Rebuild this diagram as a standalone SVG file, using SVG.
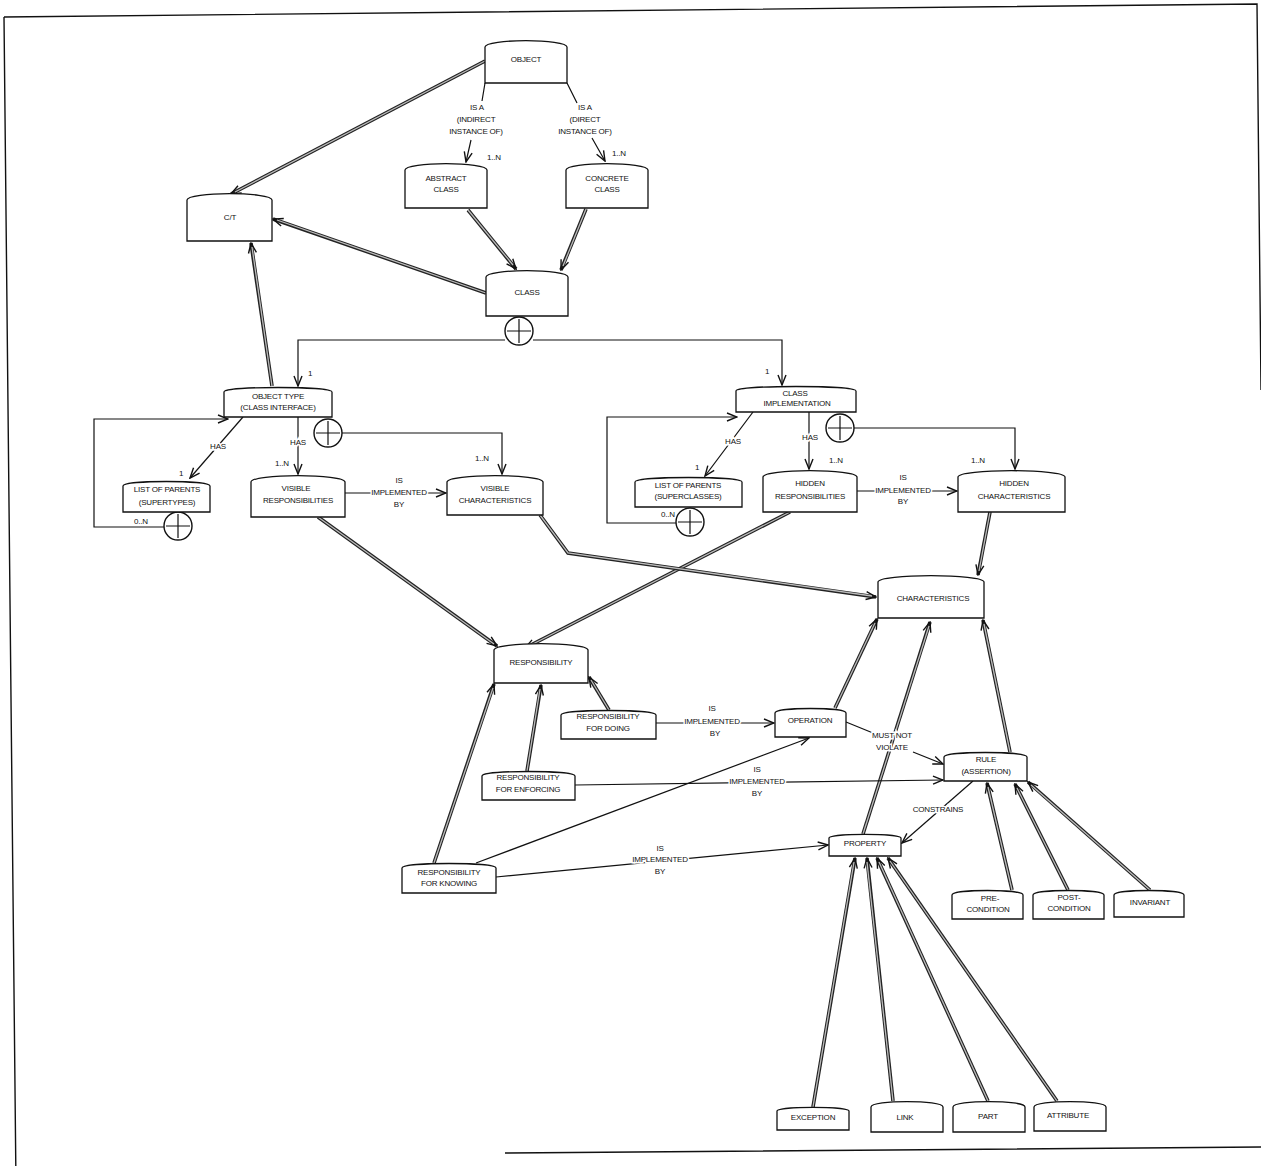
<svg xmlns="http://www.w3.org/2000/svg" width="1261" height="1166" viewBox="0 0 1261 1166">
<style>
.node{fill:#fff;stroke:#111;stroke-width:1.3}
.t{font-family:"Liberation Sans",Arial,sans-serif;font-size:8px;text-anchor:middle;fill:#111;letter-spacing:-0.2px}
.l{font-family:"Liberation Sans",Arial,sans-serif;font-size:8px;text-anchor:middle;fill:#111;letter-spacing:-0.2px;stroke:#fff;stroke-width:3;paint-order:stroke}
.s{fill:none;stroke:#111;stroke-width:1.2}
.sa{fill:none;stroke:#111;stroke-width:1.2;marker-end:url(#a)}
.d{fill:none;stroke:#222;stroke-width:3.6;marker-end:url(#a)}
.di{fill:none;stroke:#bbb;stroke-width:1.3}
.frame{fill:none;stroke:#111;stroke-width:1.4}
.circ{fill:#fff;stroke:#111;stroke-width:1.4}
</style>
<defs>
<marker id="a" markerUnits="userSpaceOnUse" viewBox="0 0 12 10" markerWidth="12" markerHeight="10" refX="11" refY="5" orient="auto"><path d="M1,1 L11,5 L1,9" fill="none" stroke="#111" stroke-width="1.4"/></marker>
</defs>
<rect width="1261" height="1166" fill="#fff"/>
<g id="frame">
<path class="frame" d="M4,17 L15.8,1166 M4,17 L1257,4 L1261,390 M505,1153 L1261,1147"/>
</g>
<g id="connectors">
<!-- double connectors -->
<path class="d" d="M485,61 L231,194"/><path class="di" d="M485,61 L235,192"/>
<path class="d" d="M486,293 L273,219"/><path class="di" d="M486,293 L277,220"/>
<path class="d" d="M468,210 L516,269"/><path class="di" d="M468,210 L513,265"/>
<path class="d" d="M586,209 L561,270"/><path class="di" d="M586,209 L563,266"/>
<path class="d" d="M272,386 L251,243"/><path class="di" d="M272,386 L252,247"/>
<path class="d" d="M318,517 L497,646"/><path class="di" d="M318,517 L494,644"/>
<path class="d" d="M790,512 L525,648"/><path class="di" d="M790,512 L529,646"/>
<path class="d" d="M540,515 L568,553 L876,597"/><path class="di" d="M540,515 L568,553 L872,596"/>
<path class="d" d="M990,512 L978,575"/><path class="di" d="M990,512 L979,571"/>
<path class="d" d="M609,710 L589,677"/><path class="di" d="M609,710 L591,680"/>
<path class="d" d="M527,771 L541,685"/><path class="di" d="M527,771 L540,689"/>
<path class="d" d="M434,863 L494,684"/><path class="di" d="M434,863 L493,688"/>
<path class="d" d="M835,708 L877,619"/><path class="di" d="M835,708 L875,623"/>
<path class="d" d="M863,834 L930,622"/><path class="di" d="M863,834 L929,626"/>
<path class="d" d="M1010,752 L983,620"/><path class="di" d="M1010,752 L984,624"/>
<path class="d" d="M1012,890 L987,783"/><path class="di" d="M1012,890 L988,787"/>
<path class="d" d="M1068,890 L1015,784"/><path class="di" d="M1068,890 L1017,788"/>
<path class="d" d="M1150,890 L1028,782"/><path class="di" d="M1150,890 L1031,785"/>
<path class="d" d="M813,1107 L855,858"/><path class="di" d="M813,1107 L854,862"/>
<path class="d" d="M893,1101 L867,858"/><path class="di" d="M893,1101 L867,862"/>
<path class="d" d="M988,1101 L877,858"/><path class="di" d="M988,1101 L879,862"/>
<path class="d" d="M1057,1101 L888,858"/><path class="di" d="M1057,1101 L890,861"/>
<!-- single connectors -->
<path class="sa" d="M485,83 L482,101 M471,140 L466,162"/>
<path class="sa" d="M567,83 L577,103 M592,138 L605,161"/>
<path class="sa" d="M505,340 H298 V386"/>
<path class="sa" d="M533,340 H782 V385"/>
<path class="sa" d="M243,417 L190,478"/>
<path class="sa" d="M298,417 V474"/>
<path class="sa" d="M342,433 H502 V474"/>
<path class="sa" d="M164,527 H94 V419 H228"/>
<path class="sa" d="M345,493 H446"/>
<path class="sa" d="M753,412 L705,476"/>
<path class="sa" d="M809,412 V469"/>
<path class="sa" d="M854,428 H1015 V469"/>
<path class="sa" d="M676,523 H607 V417 H737"/>
<path class="sa" d="M857,491 H957"/>
<path class="sa" d="M656,723 H774"/>
<path class="sa" d="M846,722 L873,733 M913,752 L943,764"/>
<path class="sa" d="M575,785 L943,780"/>
<path class="sa" d="M973,781 L902,843"/>
<path class="sa" d="M496,877 L828,845"/>
<path class="sa" d="M476,863 L809,738"/>
<!-- labels -->
<text class="l" x="477" y="110">IS A</text>
<text class="l" x="476" y="122">(INDIRECT</text>
<text class="l" x="476" y="134">INSTANCE OF)</text>
<text class="t" x="487" y="160" style="text-anchor:start">1..N</text>
<text class="l" x="585" y="110">IS A</text>
<text class="l" x="585" y="122">(DIRECT</text>
<text class="l" x="585" y="134">INSTANCE OF)</text>
<text class="t" x="612" y="156" style="text-anchor:start">1..N</text>
<text class="t" x="310" y="376">1</text>
<text class="t" x="767" y="374">1</text>
<text class="l" x="218" y="449">HAS</text>
<text class="t" x="181" y="476">1</text>
<text class="l" x="298" y="445">HAS</text>
<text class="t" x="282" y="466">1..N</text>
<text class="t" x="482" y="461">1..N</text>
<text class="t" x="141" y="524">0..N</text>
<text class="l" x="399" y="483">IS</text>
<text class="l" x="399" y="495">IMPLEMENTED</text>
<text class="l" x="399" y="507">BY</text>
<text class="l" x="733" y="444">HAS</text>
<text class="t" x="697" y="470">1</text>
<text class="l" x="810" y="440">HAS</text>
<text class="t" x="829" y="463" style="text-anchor:start">1..N</text>
<text class="t" x="978" y="463">1..N</text>
<text class="t" x="668" y="517">0..N</text>
<text class="l" x="903" y="480">IS</text>
<text class="l" x="903" y="493">IMPLEMENTED</text>
<text class="l" x="903" y="504">BY</text>
<text class="l" x="712" y="711">IS</text>
<text class="l" x="712" y="724">IMPLEMENTED</text>
<text class="l" x="715" y="736">BY</text>
<text class="l" x="892" y="738">MUST NOT</text>
<text class="l" x="892" y="750">VIOLATE</text>
<text class="l" x="757" y="772">IS</text>
<text class="l" x="757" y="784">IMPLEMENTED</text>
<text class="l" x="757" y="796">BY</text>
<text class="l" x="938" y="812">CONSTRAINS</text>
<text class="l" x="660" y="851">IS</text>
<text class="l" x="660" y="862">IMPLEMENTED</text>
<text class="l" x="660" y="874">BY</text>
</g>
<g id="xor-class"><circle class="circ" cx="519" cy="331" r="14"/><path class="s" d="M519,319 V343 M507,331 H531"/></g>
<g id="xor-objtype"><circle class="circ" cx="328" cy="433" r="14"/><path class="s" d="M328,421 V445 M316,433 H340"/></g>
<g id="xor-supertypes"><circle class="circ" cx="178" cy="526" r="14"/><path class="s" d="M178,514 V538 M166,526 H190"/></g>
<g id="xor-classimpl"><circle class="circ" cx="840" cy="428" r="14"/><path class="s" d="M840,416 V440 M828,428 H852"/></g>
<g id="xor-superclasses"><circle class="circ" cx="690" cy="522" r="14"/><path class="s" d="M690,510 V534 M678,522 H702"/></g>
<g id="object"><path class="node" d="M485,83 V47 C485,38.6 567,38.6 567,47 V83 Z"/><text class="t" x="526" y="62">OBJECT</text></g>
<g id="abstract-class"><path class="node" d="M405,208 V170 C405,161.6 487,161.6 487,170 V208 Z"/><text class="t" x="446" y="181">ABSTRACT</text><text class="t" x="446" y="192">CLASS</text></g>
<g id="concrete-class"><path class="node" d="M566,208 V170 C566,161.6 648,161.6 648,170 V208 Z"/><text class="t" x="607" y="181">CONCRETE</text><text class="t" x="607" y="192">CLASS</text></g>
<g id="ct"><path class="node" d="M187,241 V200 C187,191.6 272,191.6 272,200 V241 Z"/><text class="t" x="230" y="220">C/T</text></g>
<g id="class"><path class="node" d="M486,316 V277 C486,268.6 568,268.6 568,277 V316 Z"/><text class="t" x="527" y="295">CLASS</text></g>
<g id="object-type"><path class="node" d="M224,417 V392 C224,386 332,386 332,392 V417 Z"/><text class="t" x="278" y="399">OBJECT TYPE</text><text class="t" x="278" y="410">(CLASS INTERFACE)</text></g>
<g id="list-supertypes"><path class="node" d="M123,512 V486 C123,480 210,480 210,486 V512 Z"/><text class="t" x="167" y="492">LIST OF PARENTS</text><text class="t" x="167" y="505">(SUPERTYPES)</text></g>
<g id="visible-resp"><path class="node" d="M251,517 V482 C251,473.6 345,473.6 345,482 V517 Z"/><text class="t" x="296" y="491">VISIBLE</text><text class="t" x="298" y="503">RESPONSIBILITIES</text></g>
<g id="visible-char"><path class="node" d="M447,515 V482 C447,473.6 543,473.6 543,482 V515 Z"/><text class="t" x="495" y="491">VISIBLE</text><text class="t" x="495" y="503">CHARACTERISTICS</text></g>
<g id="class-impl"><path class="node" d="M736,412 V391 C736,385 856,385 856,391 V412 Z"/><text class="t" x="795" y="396">CLASS</text><text class="t" x="797" y="406">IMPLEMENTATION</text></g>
<g id="list-superclasses"><path class="node" d="M635,507 V482 C635,476 742,476 742,482 V507 Z"/><text class="t" x="688" y="488">LIST OF PARENTS</text><text class="t" x="688" y="499">(SUPERCLASSES)</text></g>
<g id="hidden-resp"><path class="node" d="M763,512 V477 C763,468.6 857,468.6 857,477 V512 Z"/><text class="t" x="810" y="486">HIDDEN</text><text class="t" x="810" y="499">RESPONSIBILITIES</text></g>
<g id="hidden-char"><path class="node" d="M958,512 V477 C958,468.6 1065,468.6 1065,477 V512 Z"/><text class="t" x="1014" y="486">HIDDEN</text><text class="t" x="1014" y="499">CHARACTERISTICS</text></g>
<g id="characteristics"><path class="node" d="M878,618 V582 C878,573.6 984,573.6 984,582 V618 Z"/><text class="t" x="933" y="601">CHARACTERISTICS</text></g>
<g id="responsibility"><path class="node" d="M494,683 V650 C494,641.6 588,641.6 588,650 V683 Z"/><text class="t" x="541" y="665">RESPONSIBILITY</text></g>
<g id="resp-doing"><path class="node" d="M561,739 V715 C561,709 656,709 656,715 V739 Z"/><text class="t" x="608" y="719">RESPONSIBILITY</text><text class="t" x="608" y="731">FOR DOING</text></g>
<g id="operation"><path class="node" d="M775,737 V713 C775,707 846,707 846,713 V737 Z"/><text class="t" x="810" y="723">OPERATION</text></g>
<g id="resp-enforcing"><path class="node" d="M482,800 V776 C482,770 575,770 575,776 V800 Z"/><text class="t" x="528" y="780">RESPONSIBILITY</text><text class="t" x="528" y="792">FOR ENFORCING</text></g>
<g id="rule"><path class="node" d="M944,781 V757 C944,751 1027,751 1027,757 V781 Z"/><text class="t" x="986" y="762">RULE</text><text class="t" x="986" y="774">(ASSERTION)</text></g>
<g id="property"><path class="node" d="M829,856 V838 C829,833.2 901,833.2 901,838 V856 Z"/><text class="t" x="865" y="846">PROPERTY</text></g>
<g id="resp-knowing"><path class="node" d="M402,893 V868 C402,862 496,862 496,868 V893 Z"/><text class="t" x="449" y="875">RESPONSIBILITY</text><text class="t" x="449" y="886">FOR KNOWING</text></g>
<g id="precondition"><path class="node" d="M952,919 V895 C952,889 1023,889 1023,895 V919 Z"/><text class="t" x="990" y="901">PRE-</text><text class="t" x="988" y="912">CONDITION</text></g>
<g id="postcondition"><path class="node" d="M1033,919 V895 C1033,889 1104,889 1104,895 V919 Z"/><text class="t" x="1069" y="900">POST-</text><text class="t" x="1069" y="911">CONDITION</text></g>
<g id="invariant"><path class="node" d="M1114,917 V895 C1114,889 1184,889 1184,895 V917 Z"/><text class="t" x="1150" y="905">INVARIANT</text></g>
<g id="exception"><path class="node" d="M777,1130 V1111 C777,1106.2 849,1106.2 849,1111 V1130 Z"/><text class="t" x="813" y="1120">EXCEPTION</text></g>
<g id="link"><path class="node" d="M871,1132 V1107 C871,1099.8 943,1099.8 943,1107 V1132 Z"/><text class="t" x="905" y="1120">LINK</text></g>
<g id="part"><path class="node" d="M953,1132 V1107 C953,1099.8 1025,1099.8 1025,1107 V1132 Z"/><text class="t" x="988" y="1119">PART</text></g>
<g id="attribute"><path class="node" d="M1034,1131 V1107 C1034,1099.8 1106,1099.8 1106,1107 V1131 Z"/><text class="t" x="1068" y="1118">ATTRIBUTE</text></g>
</svg>
